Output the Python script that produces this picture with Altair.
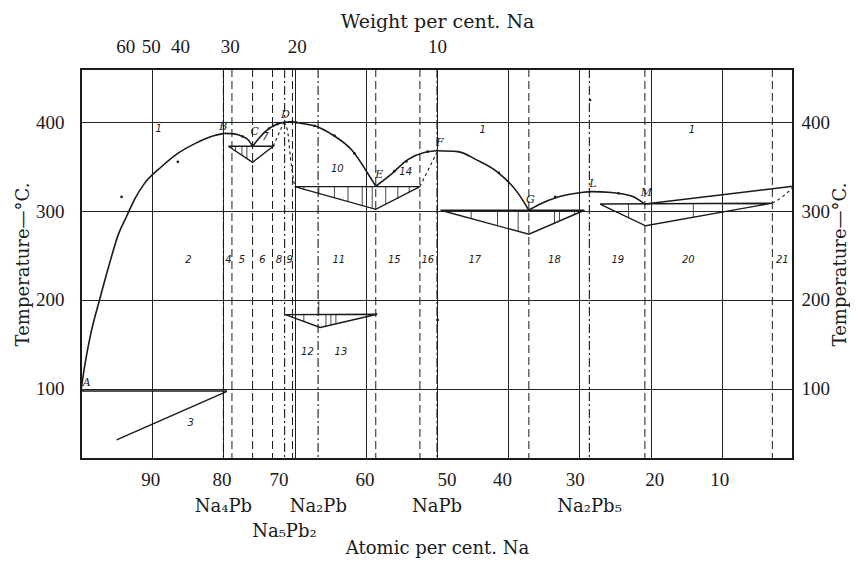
import altair as alt
import pandas as pd

# ---------------- data (x = atomic per cent Na, y = temperature °C) ----------------
liq_AB = [(100, 98), (99.5, 125), (98.6, 163), (97.4, 200), (96.1, 238), (94.7, 275), (93.6, 294),
          (92.5, 313), (91.1, 331), (88.7, 350), (86.4, 365), (84.0, 376), (81.7, 384), (79.8, 387.5)]
liq_BC = [(79.8, 387.5), (78.5, 387), (77.3, 384), (76.5, 380), (75.9, 373)]
liq_CD = [(75.9, 373), (75.0, 382), (74.2, 389), (73.4, 394), (72.4, 398), (71.5, 400)]
liq_DE = [(71.5, 400), (70.6, 400.5), (69.2, 399), (66.8, 395), (64.7, 386), (62.0, 369), (59.3, 337), (58.6, 328)]
liq_EF = [(58.6, 328), (56.5, 341), (54.1, 358), (51.8, 366), (49.9, 368)]
liq_FG = [(49.9, 368), (47.1, 367), (44.5, 358), (41.5, 344), (38.6, 320), (37.1, 301)]
liq_GM = [(37.1, 301), (35.8, 307), (33.0, 316), (29.7, 321), (28.3, 322), (25.5, 321), (22.7, 317), (20.8, 308)]
liq_MPb = [(20.8, 308), (0, 328)]

tri_C = [(79.3, 373), (75.9, 355), (73.0, 373), (79.3, 373)]
tri_E = [(70.0, 327.6), (58.6, 302), (52.4, 327.6), (70.0, 327.6)]
tri_G = [(49.5, 301), (37.1, 274), (29.3, 301), (49.5, 301)]
tri_M = [(27.1, 308), (20.7, 283.5), (2.9, 309), (27.1, 308)]
tri_low = [(71.3, 183.5), (66.4, 169), (58.4, 184), (71.3, 183.5)]
sol_A = [(100, 97.5), (79.5, 97.5)]
line_3 = [(95, 42.5), (79.5, 97)]

dot_CD = [(73.0, 373), (71.5, 400)]
dot_D = [(71.5, 400), (71.0, 391), (70.6, 361), (70.0, 328)]
dot_EF = [(52.4, 327.6), (49.9, 368)]
dot_Pb = [(2.9, 309), (1.5, 316), (0, 327)]

hatch = [(78.3, 373, 367.7), (77.4, 373, 363), (76.7, 373, 359.2),
         (68.7, 327.6, 324.3), (66.6, 327.6, 319.7), (64.4, 327.6, 314.8), (62.5, 327.6, 310.6),
         (60.5, 327.6, 306.2), (59.1, 327.6, 303.1), (57.2, 327.6, 307.6), (55.5, 327.6, 314.5),
         (53.9, 327.6, 321),
         (45.2, 301, 291.6), (41.5, 301, 283.6), (38.6, 301, 277.3), (33.5, 301, 286.5),
         (32.8, 301, 288.9), (30.7, 301, 296.2),
         (23.1, 308, 292.7), (14.0, 308, 293),
         (68.7, 183.5, 175.8), (65.6, 183.5, 170.5), (64.9, 183.5, 171.8), (64.2, 183.5, 173.1),
         (66.6, 200, 183.5)]

dashdot_x = [80.0, 71.4, 66.7, 50.0, 28.6]
dashed_x = [78.8, 75.9, 73.1, 70.3, 58.6, 52.4, 37.1, 20.8, 2.9]

dots = [(86.4, 355.5), (94.3, 316), (28.5, 425), (49.9, 177.6), (73.6, 393), (73.0, 396), (72.4, 398),
        (70.3, 400.5), (69.8, 400), (67.2, 396), (64.4, 385), (61.6, 365), (56.0, 345), (54.3, 356),
        (51.3, 367), (41.3, 343), (33.4, 316), (24.5, 320), (77.3, 384)]

region_text = ["1", "1", "1", "2", "3", "4", "5", "6", "7", "8", "9", "10", "11", "12", "13", "14",
               "15", "16", "17", "18", "19", "20", "21"]
region_a = [89.1, 43.6, 14.2, 84.9, 84.6, 79.3, 77.4, 74.5, 74.1, 72.2, 70.7, 64.0, 63.8, 68.2, 63.5,
            54.4, 56.0, 51.3, 44.7, 33.5, 24.6, 14.7, 1.5]
region_t = [392, 391, 391, 245, 61, 245, 245, 245, 384, 245, 245, 347, 245, 141, 141, 344, 245, 245,
            245, 245, 245, 245, 245]

letter_text = ["A", "B", "C", "D", "E", "F", "G", "L", "M"]
letter_a = [99.2, 80.0, 75.6, 71.3, 58.1, 49.6, 36.9, 28.1, 20.6]
letter_t = [106, 395, 389, 408, 341, 377, 313, 331, 320]

bottom_labels = ["90", "80", "70", "60", "50", "40", "30", "20", "10"]
bottom_label_pos = [90.2, 80.2, 72.2, 60.1, 48.6, 40.8, 30.6, 19.4, 10.3]
compounds_row1 = ["Na₄Pb", "Na₂Pb", "NaPb", "Na₂Pb₅"]
compounds_row1_a = [80.0, 66.67, 50.0, 28.57]
compounds_row2 = ["Na₅Pb₂"]
compounds_row2_a = [71.43]

weight_labels = ["60", "50", "40", "30", "20", "10"]
weight_label_pos = [93.8, 90.2, 86.1, 79.1, 69.7, 50.0]
grid_x = [90, 80, 70, 60, 50, 40, 30, 20, 10]
grid_y = [100, 200, 300, 400]

# ---------------- tables ----------------
def seg_table(segs):
    rows = []
    for name, pts in segs.items():
        for i, (a, t) in enumerate(pts):
            rows.append({"seg": name, "i": i, "a": a, "T": t})
    return pd.DataFrame(rows)

liq_df = seg_table({"AB": liq_AB, "BC": liq_BC, "CD": liq_CD, "DE": liq_DE, "EF": liq_EF,
                    "FG": liq_FG, "GM": liq_GM, "MPb": liq_MPb})
tri_df = seg_table({"C": tri_C, "E": tri_E, "G": tri_G, "M": tri_M, "low": tri_low,
                    "solA": sol_A, "l3": line_3})
dot_df = seg_table({"CD": dot_CD, "D": dot_D, "EF": dot_EF, "Pb": dot_Pb})
hatch_df = pd.DataFrame(hatch, columns=["a", "T", "t2"])
dd_df = pd.DataFrame({"a": dashdot_x})
dash_df = pd.DataFrame({"a": dashed_x})
pts_df = pd.DataFrame(dots, columns=["a", "T"])
reg_df = pd.DataFrame({"txt": region_text, "a": region_a, "T": region_t})
let_df = pd.DataFrame({"txt": letter_text, "a": letter_a, "T": letter_t})
bl_df = pd.DataFrame({"txt": bottom_labels, "a": bottom_label_pos})
c1_df = pd.DataFrame({"txt": compounds_row1, "a": compounds_row1_a})
c2_df = pd.DataFrame({"txt": compounds_row2, "a": compounds_row2_a})

SERIF = "DejaVu Serif"
NUMF = "Liberation Serif"
INK = "#1a1a1a"
xs = alt.Scale(domain=[100, 0], nice=False, zero=False)
ys = alt.Scale(domain=[21, 460], nice=False, zero=False)

x_axis = alt.Axis(
    orient="bottom", values=grid_x, grid=True, gridColor="#222", gridWidth=1, ticks=False,
    labels=False, domain=False,
    title="Atomic per cent. Na", titleFont=SERIF, titleFontSize=18, titleFontWeight="normal",
    titleColor=INK, titlePadding=80)
y_axis = alt.Axis(
    orient="left", values=grid_y, grid=True, gridColor="#222", gridWidth=1, ticks=False, domain=False,
    labelFont=NUMF, labelFontSize=19, labelColor=INK, labelPadding=17,
    title="Temperature—°C.", titleFont=SERIF, titleFontSize=18, titleFontWeight="normal",
    titleColor=INK, titlePadding=3)

X = alt.X("a:Q", scale=xs, axis=x_axis)
Y = alt.Y("T:Q", scale=ys, axis=y_axis)

liquidus = alt.Chart(liq_df).mark_line(color=INK, strokeWidth=1.6, interpolate="monotone").encode(
    x=X, y=Y, detail="seg:N", order="i:Q")
tris = alt.Chart(tri_df).mark_line(color=INK, strokeWidth=1.4).encode(
    x=X, y=Y, detail="seg:N", order="i:Q")
dotted = alt.Chart(dot_df).mark_line(color=INK, strokeWidth=1.1, strokeDash=[3, 3],
                                     interpolate="monotone").encode(
    x=X, y=Y, detail="seg:N", order="i:Q")
hatches = alt.Chart(hatch_df).mark_rule(color=INK, strokeWidth=0.8).encode(x=X, y=Y, y2="t2:Q")
vdd = alt.Chart(dd_df).mark_rule(color=INK, strokeWidth=1.1, strokeDash=[9, 3, 2, 3]).encode(x=X)
vdash = alt.Chart(dash_df).mark_rule(color=INK, strokeWidth=1.0, strokeDash=[8, 4]).encode(x=X)
points = alt.Chart(pts_df).mark_circle(color=INK, size=7, opacity=1).encode(x=X, y=Y)
regions = alt.Chart(reg_df).mark_text(font="DejaVu Sans", fontStyle="italic", fontSize=10,
                                      color=INK).encode(x=X, y=Y, text="txt:N")
letters = alt.Chart(let_df).mark_text(font=SERIF, fontStyle="italic", fontSize=11,
                                      color=INK).encode(x=X, y=Y, text="txt:N")
blabels = alt.Chart(bl_df).mark_text(font=NUMF, fontSize=19, color=INK, baseline="middle").encode(
    x=X, y=alt.value(411), text="txt:N")
comp1 = alt.Chart(c1_df).mark_text(font=SERIF, fontSize=18, color=INK, baseline="middle").encode(
    x=X, y=alt.value(438), text="txt:N")
comp2 = alt.Chart(c2_df).mark_text(font=SERIF, fontSize=18, color=INK, baseline="middle").encode(
    x=X, y=alt.value(463), text="txt:N")

main = alt.layer(liquidus, vdd, vdash, hatches, tris, dotted, points, regions, letters,
                 blabels, comp1, comp2)

pos_list = "[" + ",".join(str(p) for p in weight_label_pos) + "]"
lab_list = "[" + ",".join("'" + s + "'" for s in weight_labels) + "]"
label_expr = lab_list + "[indexof(" + pos_list + ", datum.value)]"

dummy_df = pd.DataFrame({"a": [50], "T": [200]})
secondary = alt.Chart(dummy_df).mark_point(opacity=0).encode(
    x=alt.X("a:Q", scale=xs, axis=alt.Axis(
        orient="top", values=weight_label_pos, labelExpr=label_expr, grid=False, ticks=False,
        domain=False, labelFont=NUMF, labelFontSize=19, labelColor=INK, labelPadding=13,
        labelOverlap=False,
        title="Weight per cent. Na", titleFont=SERIF, titleFontSize=19, titleFontWeight="normal",
        titleColor=INK, titlePadding=6)),
    y=alt.Y("T:Q", scale=ys, axis=alt.Axis(
        orient="right", values=grid_y, grid=False, ticks=False, domain=False,
        labelFont=NUMF, labelFontSize=19, labelColor=INK, labelPadding=8,
        title="Temperature—°C.", titleFont=SERIF, titleFontSize=18, titleFontWeight="normal",
        titleColor=INK, titlePadding=2, titleAngle=270, titleBaseline="top")),
)

chart = alt.layer(main, secondary).resolve_scale(x="independent", y="independent").properties(
    width=712, height=390,
    autosize=alt.AutoSizeParams(type="none"),
    padding={"left": 73, "top": 61, "right": 57, "bottom": 104},
    background="white",
).configure_view(stroke=INK, strokeWidth=2)

chart.save("out.html", embed_options={"renderer": "svg", "actions": False})
